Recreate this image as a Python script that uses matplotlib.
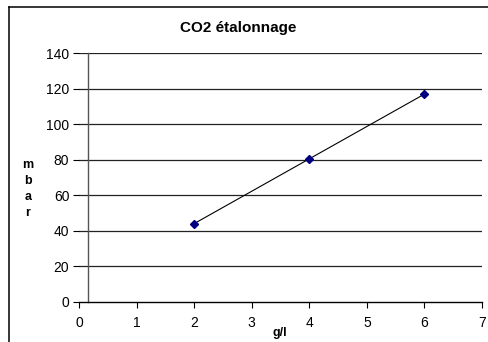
import matplotlib
matplotlib.use("Agg")
import matplotlib.pyplot as plt
from matplotlib.lines import Line2D

plt.rcParams['font.family'] = ['Liberation Sans', 'DejaVu Sans']

x_vals = [2, 4, 6]
y_vals = [44, 80.5, 117]
x_ticks = [0, 1, 2, 3, 4, 5, 6, 7]
y_ticks = [0, 20, 40, 60, 80, 100, 120, 140]
title = "CO2 étalonnage"
xlabel = "g/l"
ylabel = "m\nb\na\nr"

W, H = 488, 342
fig = plt.figure(figsize=(W/100, H/100), dpi=100)
ax = fig.add_axes([79/W, (H-301.7)/H, (482-79)/W, (301.7-53.3)/H])

ax.set_xlim(0, 7)
ax.set_ylim(0, 140)
ax.set_xticks(x_ticks)
ax.set_yticks(y_ticks)
for s in ['top', 'right', 'left']:
    ax.spines[s].set_visible(False)
ax.spines['bottom'].set_linewidth(1.0)
ax.spines['bottom'].set_color('black')
ax.tick_params(axis='both', labelsize=10, length=4, width=0.8, color='black', direction='out', pad=3)
ax.tick_params(axis='x', pad=6)
for yv in y_ticks[1:]:
    ax.axhline(yv, color='#222222', lw=0.9, zorder=1)
ax.plot([0.15, 0.15], [0, 140], color='#555555', lw=1.0, zorder=1, clip_on=False)

ax.plot(x_vals, y_vals, color='black', lw=0.8, marker='D', markersize=4.5,
        markerfacecolor='#000080', markeredgecolor='#000080', zorder=3)

fig.text(238/W, 1-28/H, title, ha='center', va='center', fontsize=11, fontweight='bold')
fig.text(280/W, 1-333/H, xlabel, ha='center', va='center', fontsize=9, fontweight='bold')
fig.text(28/W, 1-189/H, ylabel, ha='center', va='center', fontsize=9, fontweight='bold', linespacing=1.45)

fig.add_artist(Line2D([9/W, 9/W], [0, 1-6.5/H], color='black', lw=1.1, transform=fig.transFigure))
fig.add_artist(Line2D([9/W, 1], [1-6.5/H, 1-6.5/H], color='black', lw=1.1, transform=fig.transFigure))

fig.savefig('out.png', dpi=100)
